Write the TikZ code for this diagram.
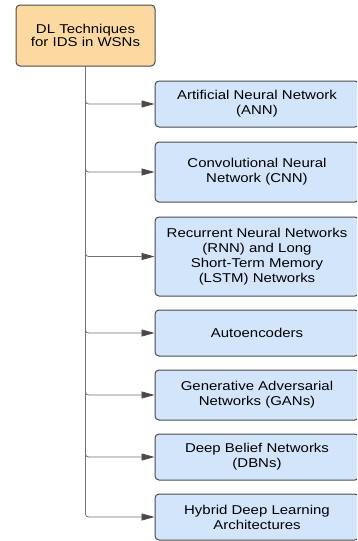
\documentclass[tikz,border=0pt]{standalone}
\usepackage{fontspec}
\setmainfont{Liberation Sans}[FakeStretch=1.17]
\usetikzlibrary{arrows.meta}
\definecolor{rootfill}{HTML}{FDD9A2}
\definecolor{techfill}{HTML}{D3E5FB}
\definecolor{edgegray}{HTML}{4A4A4A}
\definecolor{linegray}{HTML}{707070}

\begin{document}
\begin{tikzpicture}[x=1pt, y=-1pt,
    rootbox/.style={draw=edgegray, line width=1pt, fill=rootfill, rounded corners=4pt,
      minimum width=139pt, minimum height=61pt, align=center, font=\fontsize{12.8}{11}\selectfont},
    techbox/.style={draw=edgegray, line width=1pt, fill=techfill, rounded corners=4pt,
      minimum width=204pt, align=center, font=\fontsize{12.8}{15}\selectfont},
    branch/.style={draw=linegray, line width=0.8pt, rounded corners=3pt,
      -{Triangle[length=13pt,width=7pt,color=edgegray]}}]
  \useasboundingbox (0,0) rectangle (357,541);
  \clip (0,0) rectangle (357,541);

  % root of the tree
  \node[rootbox] (root) at (85.5,35.5) {DL Techniques\\for IDS in WSNs};

  % technique boxes: centre y / height / text
  \foreach \i/\cy/\h/\txt in {%
      1/104/46/{Artificial Neural Network\\(ANN)},
      2/172/60/{Convolutional Neural\\Network (CNN)},
      3/256.5/79/{Recurrent Neural Networks\\(RNN) and Long\\Short-Term Memory\\(LSTM) Networks},
      4/333/46/{Autoencoders},
      5/395/50/{Generative Adversarial\\Networks (GANs)},
      6/457/46/{Deep Belief Networks\\(DBNs)},
      7/517/46/{Hybrid Deep Learning\\Architectures}}
  {
    \node[techbox, minimum height=\h pt] (tech\i) at (257,\cy) {\txt};
  }

  % branches from the trunk
  \foreach \i in {1,...,7}
    \draw[branch] (root.south) |- (tech\i.west);
\end{tikzpicture}
\end{document}
